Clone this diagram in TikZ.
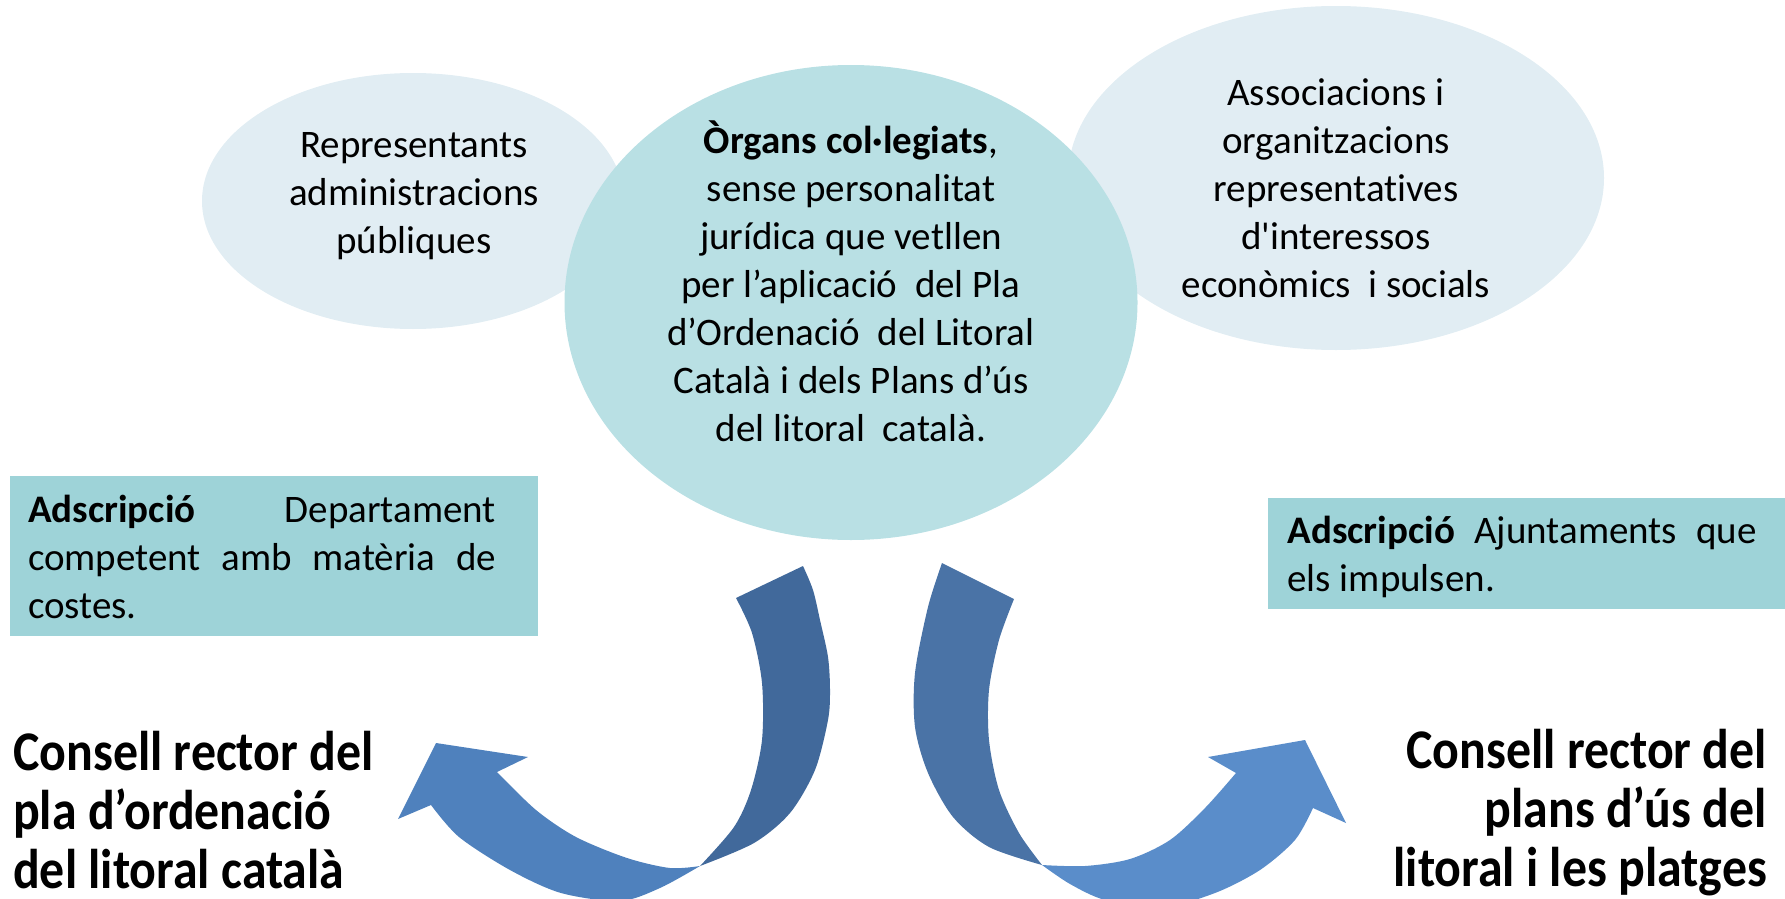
\documentclass[tikz,border=0pt]{standalone}
\usepackage{fontspec}
\setmainfont{Carlito}[Ligatures={TeXOff,NoCommon}]
\newfontfamily\condfont{Carlito}[FakeStretch=0.89, Ligatures={TeXOff,NoCommon}]
\usetikzlibrary{shapes.geometric}
\definecolor{paleell}{HTML}{E1EDF3}
\definecolor{circfill}{HTML}{B9E0E4}
\definecolor{boxfill}{HTML}{9ED3D8}
\definecolor{ldark}{HTML}{41699B}
\definecolor{llight}{HTML}{4F81BD}
\definecolor{rdark}{HTML}{4A73A6}
\definecolor{rlight}{HTML}{5A8DCA}
\tikzset{
  bubble/.style={ellipse, inner sep=0pt, draw=none},
  infobox/.style={fill=boxfill, inner sep=0pt, anchor=north west},
  bodytxt/.style={anchor=base, inner sep=0pt, font=\fontsize{39}{48}\selectfont},
  bigtxt/.style={anchor=base, inner sep=0pt, font=\condfont\fontsize{56}{59}\selectfont\bfseries},
}
\renewcommand{\arraystretch}{1}
\begin{document}
\begin{tikzpicture}[x=1pt,y=-1pt]
\useasboundingbox (0,0) rectangle (1785,899);
\clip (0,0) rectangle (1785,899);

% bubbles
\node[bubble, fill=paleell, minimum width=422pt, minimum height=256pt] (repE) at (413,201) {};
\node[bubble, fill=paleell, minimum width=536pt, minimum height=344pt] (assE) at (1336,178) {};
\node[bubble, fill=circfill, minimum width=573pt, minimum height=475pt] (orgE) at (851,302.5) {};

% boxes
\node[infobox, minimum width=527.5pt, minimum height=160pt] (boxL) at (10,476) {};
\node[infobox, minimum width=530pt, minimum height=111pt] (boxR) at (1268,498) {};

% bubble texts
\node[bodytxt] (repT) at (414,157) {\begin{tabular}[t]{@{}c@{}}Representants\\administracions\\públiques\end{tabular}};
\node[bodytxt] (assT) at (1336,105) {\begin{tabular}[t]{@{}c@{}}Associacions i\\organitzacions\\representatives\\d'interessos\\econòmics \ i socials\end{tabular}};
\node[bodytxt] (orgT) at (851,153) {\begin{tabular}[t]{@{}c@{}}\textbf{Òrgans col·legiats},\\sense personalitat\\jurídica que vetllen\\per l’aplicació \ del Pla\\d’Ordenació \ del Litoral\\Català i dels Plans d’ús\\del litoral \ català.\end{tabular}};

% box texts
\node[bodytxt] (boxLT) at (262,522) {\begin{tabular}[t]{@{}l@{}}\makebox[468pt][s]{\textbf{Adscripció} Departament}\\\makebox[468pt][s]{competent amb matèria de}\\costes.\end{tabular}};
\node[bodytxt] (boxRT) at (1522,543) {\begin{tabular}[t]{@{}l@{}}\makebox[469pt][s]{\textbf{Adscripció} Ajuntaments que}\\els impulsen.\end{tabular}};

% bottom titles
\node[bigtxt, anchor=base west] (consL) at (13,770) {\begin{tabular}[t]{@{}l@{}}Consell rector del\\pla d’ordenació\\del litoral català\end{tabular}};
\node[bigtxt, anchor=base east] (consR) at (1767,768) {\begin{tabular}[t]{@{}r@{}}Consell rector del\\plans d’ús del\\litoral i les platges\end{tabular}};

% left ribbon arrow
\fill[ldark] (736,598) -- plot[smooth] coordinates {(803,566) (813,590) (820,620) (828,657) (830,690) (828,720) (815,770) (790,813) (754,843) (700,866)}
  -- plot[smooth] coordinates {(700,866) (734,827) (751,790) (762,740) (762,683) (752,633) (736,598)} -- cycle;
\fill[llight] (436,743) -- (528,757) -- plot[smooth] coordinates {(497,772) (536,810) (576,837) (627,858) (670,868) (700,866)}
  -- plot[smooth] coordinates {(700,866) (660,888) (620,901) (561,893) (510,870) (459,837) (431,805)} -- (398,819) -- cycle;

% right ribbon arrow
\fill[rdark] (942,563) -- plot[smooth] coordinates {(1014,599) (999,640) (989,690) (989,740) (999,790) (1019,833) (1042,865)}
  -- plot[smooth] coordinates {(1042,865) (989,847) (953,817) (928,773) (915,727) (915,673) (928,607) (942,563)} -- cycle;
\fill[rlight] plot[smooth] coordinates {(1042,865) (1085,866) (1130,859) (1170,840) (1205,808) (1236,773)}
  -- (1208,757) -- (1305,740) -- (1346,823) -- plot[smooth] coordinates {(1313,808) (1295,840) (1260,870) (1215,893) (1160,908) (1105,900) (1070,884) (1042,865)} -- cycle;
\end{tikzpicture}
\end{document}
